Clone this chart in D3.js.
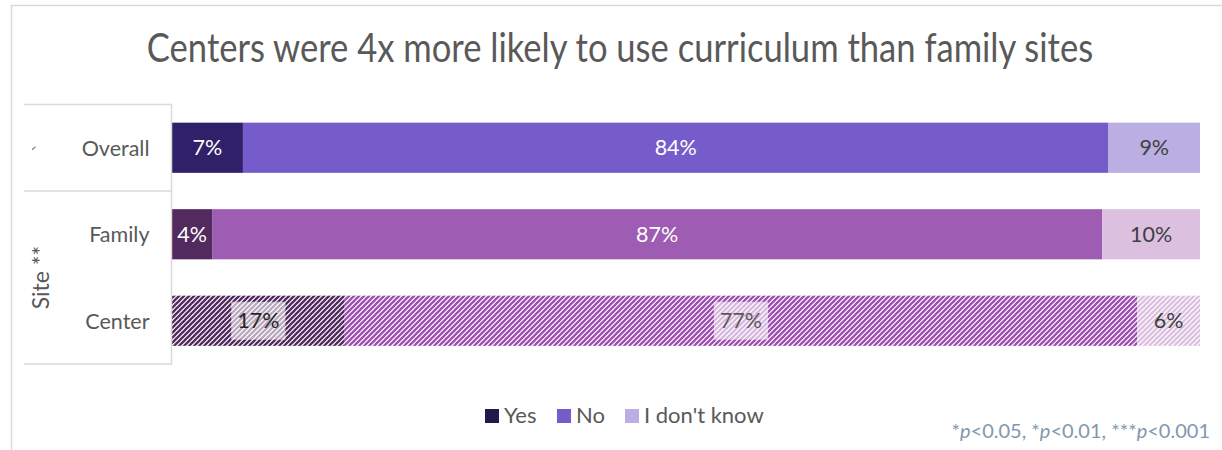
<!DOCTYPE html>
<html><head><meta charset="utf-8">
<script src="https://cdn.jsdelivr.net/npm/d3@7"></script>
<style>body{margin:0;background:#fff}svg{display:block}</style>
</head><body>
<script>
const categories = ["Overall", "Family", "Center"];
const seriesNames = ["Yes", "No", "I don't know"];
const yesValues = [6.9, 3.9, 16.8];
const noValues = [84.2, 86.6, 77.1];
const idkValues = [8.9, 9.5, 6.1];
const valueLabels = [["7%", "84%", "9%"], ["4%", "87%", "10%"], ["17%", "77%", "6%"]];
const groupLabel = "Site **";
const title = "Centers were 4x more likely to use curriculum than family sites";
const footnoteParts = [["*", false], ["p", true], ["<0.05, *", false], ["p", true], ["<0.01, ***", false], ["p", true], ["<0.001", false]];

const W = 1222, H = 450;
const FONT = "Lato, 'Open Sans', sans-serif";
const svg = d3.select("body").append("svg").attr("width", W).attr("height", H);

const colors = [
  ["#30206a", "#765cca", "#bbaee3"],
  ["#522a5e", "#9e5db2", "#dcc0e0"],
  ["#522a5e", "#9e4fb0", "#dcc0e0"]
];
const legendColors = ["#1f1a4b", "#765cca", "#bbaee3"];
const labelColors = [["#fff", "#fff", "#404040"], ["#fff", "#fff", "#404040"], ["#262626", "#595959", "#404040"]];

const defs = svg.append("defs");
colors[2].forEach((c, i) => {
  const p = defs.append("pattern").attr("id", "hatch" + i).attr("patternUnits", "userSpaceOnUse")
    .attr("width", 5).attr("height", 5);
  p.append("rect").attr("width", 5).attr("height", 5).attr("fill", "#fff");
  p.append("path").attr("d", "M-1,6 L6,-1 M-3,3 L3,-3 M2,8 L8,2").attr("stroke", c).attr("stroke-width", 2.3);
});

// frame
svg.append("path").attr("d", `M11.5,${H} V5.5 H${W}`).attr("fill", "none").attr("stroke", "#d9d9d9").attr("stroke-width", 1.5);

// title
const tg = svg.append("g").attr("transform", "translate(620,62) scale(1,1.16)");
const t = tg.append("text").attr("text-anchor", "middle")
  .attr("font-family", FONT).attr("font-size", 30).attr("fill", "#595959").text(title);
const tw = t.node().getComputedTextLength();
t.attr("font-size", 30 * 946 / tw);

const x = d3.scaleLinear().domain([0, 100]).range([172, 1200]);
const y = d3.scaleBand().domain(categories).range([104.5, 364]).paddingInner(0.42).paddingOuter(0.21);

const rows = categories.map((c, i) => {
  const vals = [yesValues[i], noValues[i], idkValues[i]];
  const total = d3.sum(vals);
  let acc = 0;
  return vals.map((v, j) => { const s = acc / total * 100; acc += v; return {cat: c, row: i, j, x0: s, x1: acc / total * 100, label: valueLabels[i][j]}; });
});

const g = svg.append("g");
rows.flat().forEach(d => {
  g.append("rect").attr("x", x(d.x0)).attr("y", y(d.cat)).attr("width", x(d.x1) - x(d.x0)).attr("height", y.bandwidth())
    .attr("fill", d.row === 2 ? `url(#hatch${d.j})` : colors[d.row][d.j]);
});
rows.flat().forEach(d => {
  const cx = (x(d.x0) + x(d.x1)) / 2, cy = y(d.cat) + y.bandwidth() / 2;
  const txt = g.append("text").attr("x", cx).attr("y", cy).attr("dy", "0.36em").attr("text-anchor", "middle")
    .attr("font-family", FONT).attr("font-size", 21.5).attr("fill", labelColors[d.row][d.j]).text(d.label);
  if (d.row === 2 && d.j < 2) {
    const bb = txt.node().getBBox();
    g.insert("rect", () => txt.node()).attr("x", bb.x - 6).attr("y", cy - 19).attr("width", bb.width + 12).attr("height", 38)
      .attr("fill", "#fff").attr("fill-opacity", 0.6);
  }
});

// category axis with grouping lines
const yAxis = d3.axisLeft(y).tickSize(0).tickPadding(22);
const ag = svg.append("g").attr("transform", "translate(171.5,0)").call(yAxis);
ag.select(".domain").remove();
ag.selectAll("text").attr("font-family", FONT).attr("font-size", 21.5).attr("fill", "#595959").attr("dy", "0.36em");
const lineC = "#d9d9d9";
const ov = y("Overall"), fam = y("Family");
const sep = (ov + y.bandwidth() + fam) / 2;
[104.5, sep, 364].forEach(yy => svg.append("line").attr("x1", 24).attr("x2", 172).attr("y1", yy).attr("y2", yy).attr("stroke", lineC).attr("stroke-width", 1.5));
svg.append("line").attr("x1", 171.5).attr("x2", 171.5).attr("y1", 104).attr("y2", 364.5).attr("stroke", lineC).attr("stroke-width", 1.5);
const oc = y("Overall") + y.bandwidth() / 2;
svg.append("line").attr("x1", 32).attr("y1", oc + 2).attr("x2", 35.5).attr("y2", oc - 1).attr("stroke", "#7f7f7f").attr("stroke-width", 1.2);
svg.append("text").attr("transform", `translate(41,${(y("Family") + y("Center") + y.bandwidth()) / 2}) rotate(-90)`)
  .attr("text-anchor", "middle").attr("dy", "0.36em").attr("font-family", FONT).attr("font-size", 23).attr("fill", "#595959").text(groupLabel);

// legend
const lg = svg.append("g");
const legendX = [485, 557, 625];
seriesNames.forEach((s, i) => {
  lg.append("rect").attr("x", legendX[i]).attr("y", 409).attr("width", 14).attr("height", 14).attr("fill", legendColors[i]);
  lg.append("text").attr("x", legendX[i] + 19).attr("y", 423).attr("font-family", FONT).attr("font-size", 22).attr("fill", "#595959").text(s);
});

// footnote
const fn = svg.append("text").attr("x", 1210).attr("y", 438).attr("text-anchor", "end").attr("font-family", FONT).attr("font-size", 20).attr("fill", "#8497b0");
footnoteParts.forEach(([s, it]) => fn.append("tspan").attr("font-style", it ? "italic" : "normal").text(s));
</script>
</body></html>
